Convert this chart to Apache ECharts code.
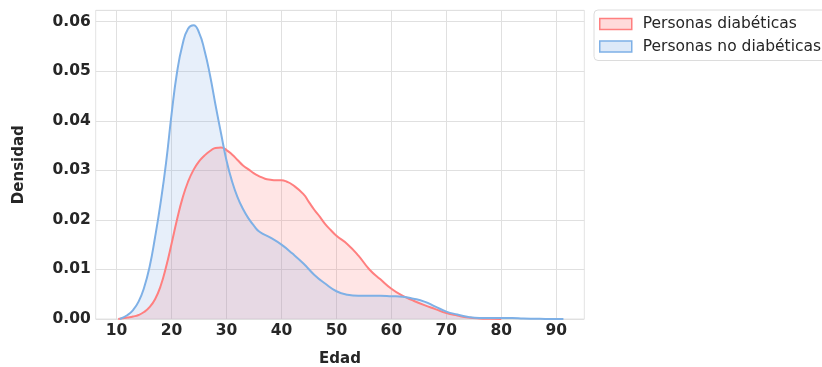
<!DOCTYPE html>
<html>
<head>
<meta charset="utf-8">
<script src="https://cdn.jsdelivr.net/npm/echarts@6/dist/echarts.min.js"></script>
<style>
  html, body { margin: 0; padding: 0; background: #fff; }
  #chart { width: 822px; height: 367px; }
</style>
</head>
<body>
<div id="chart"></div>
<script>
// curva de densidad (KDE)
const edadesDiab = [10.3, 12, 13, 14, 15, 16, 17, 18, 19, 20, 21, 22, 23, 24, 25, 26, 27, 28, 29, 30,
  31, 32, 33, 34, 35, 36, 37, 38, 39, 40, 41, 42, 44, 45, 46, 47, 48, 49, 50, 52, 54, 56, 58, 60,
  62, 64, 66, 68, 70, 72, 74, 76, 78, 80]
const densDiab = [0, 0.0003, 0.0005, 0.0008, 0.0014, 0.0024, 0.004, 0.0066, 0.0105, 0.0152, 0.0201,
  0.0244, 0.0277, 0.0301, 0.0318, 0.033, 0.0339, 0.0345, 0.0346, 0.0341,
  0.0332, 0.0321, 0.031, 0.0302, 0.0294, 0.0288, 0.0283, 0.0281, 0.028, 0.028, 0.0277, 0.0271,
  0.0252, 0.0236, 0.022, 0.0206, 0.0191, 0.0179, 0.0168, 0.0151, 0.0128, 0.0100, 0.0080, 0.0061,
  0.0047, 0.0037, 0.0028, 0.002, 0.0012, 0.0007, 0.0003, 0.0001, 0.00003, 0]

const edadesNoDiab = [10.6, 12, 13, 14, 15, 16, 17, 18, 19, 20, 21, 22, 23, 24, 25, 26, 27, 28, 29, 30,
  31, 32, 33, 34, 35, 36, 38, 40, 42, 44, 46, 48, 50, 52, 54, 56, 58, 60, 62, 64, 66, 68, 70,
  72, 74, 76, 78, 80, 82, 84, 86, 88, 91.3]
const densNoDiab = [0, 0.0008, 0.0018, 0.0035, 0.0063, 0.0105, 0.0165, 0.0234, 0.0315, 0.0413, 0.0498,
  0.0554, 0.0586, 0.0593, 0.0578, 0.0542, 0.0492, 0.0432, 0.0375, 0.032,
  0.0278, 0.0246, 0.0222, 0.0203, 0.0188, 0.0176, 0.0164, 0.015, 0.0132, 0.0112, 0.0089, 0.0071,
  0.0056, 0.0049, 0.0047, 0.0047, 0.0047, 0.0046, 0.0045, 0.0041, 0.0035, 0.0025, 0.0015,
  0.0009, 0.0004, 0.0002, 0.0002, 0.0002, 0.0002, 0.0001, 0.00005, 0.00002, 0]

const ticksEdad = [10, 20, 30, 40, 50, 60, 70, 80, 90]
const nombres = ['Personas diabéticas', 'Personas no diabéticas']

const zip = (xs, ys) => xs.map((x, i) => [x, ys[i]])

const fuente = 'DejaVu Sans'
const gris = '#262626'

const chart = echarts.init(document.getElementById('chart'))

const option = {
  animation: false,
  textStyle: { fontFamily: fuente },
  grid: {
    left: 95.7,
    top: 10.3,
    right: 237.7,
    bottom: 48,
    containLabel: false,
    outerBoundsMode: 'none',
    show: true,
    borderColor: '#e3e3e3',
    borderWidth: 1
  },
  legend: {
    orient: 'vertical',
    left: 594,
    top: 10,
    padding: [6, 30, 6, 5],
    backgroundColor: '#fff',
    borderColor: '#dcdcdc',
    borderWidth: 1,
    borderRadius: 4,
    icon: 'rect',
    itemWidth: 32,
    itemHeight: 11,
    itemGap: 6.5,
    textStyle: { fontFamily: fuente, fontSize: 15.5, color: gris, lineHeight: 16, padding: [0, 0, 0, 6] },
    data: [
      { name: nombres[0], itemStyle: { color: 'rgba(255,107,107,0.25)', borderColor: '#ff7f7f', borderWidth: 1.5 } },
      { name: nombres[1], itemStyle: { color: 'rgba(119,167,227,0.25)', borderColor: '#7eb0e6', borderWidth: 1.5 } }
    ]
  },
  xAxis: {
    type: 'value',
    min: 6.2,
    max: 95.1,
    name: 'Edad',
    nameLocation: 'middle',
    nameGap: 33,
    nameTextStyle: { fontFamily: fuente, fontSize: 15, fontWeight: 'bold', color: gris },
    axisLine: { show: false },
    axisTick: { show: false, customValues: ticksEdad },
    axisLabel: {
      customValues: ticksEdad,
      margin: 4,
      fontFamily: fuente,
      fontSize: 15.5,
      fontWeight: 'bold',
      color: gris
    },
    splitLine: { show: true, lineStyle: { color: '#e0e0e0', width: 1 } }
  },
  yAxis: {
    type: 'value',
    min: 0,
    max: 0.0623,
    interval: 0.01,
    name: 'Densidad',
    nameLocation: 'middle',
    nameGap: 69,
    nameTextStyle: { fontFamily: fuente, fontSize: 15, fontWeight: 'bold', color: gris },
    axisLine: { show: false },
    axisTick: { show: false },
    axisLabel: {
      margin: 5,
      showMaxLabel: false,
      fontFamily: fuente,
      fontSize: 15.5,
      fontWeight: 'bold',
      color: gris,
      formatter: v => v.toFixed(2)
    },
    splitLine: { show: true, lineStyle: { color: '#e0e0e0', width: 1 } }
  },
  series: [
    {
      name: nombres[0],
      type: 'line',
      smooth: true,
      showSymbol: false,
      data: zip(edadesDiab, densDiab),
      lineStyle: { color: '#ff7f7f', width: 2 },
      itemStyle: { color: '#ff7f7f' },
      areaStyle: { color: 'rgba(255,107,107,0.25)' }
    },
    {
      name: nombres[1],
      type: 'line',
      smooth: true,
      showSymbol: false,
      data: zip(edadesNoDiab, densNoDiab),
      lineStyle: { color: '#7eb0e6', width: 2 },
      itemStyle: { color: '#7eb0e6' },
      areaStyle: { color: 'rgba(119,167,227,0.25)' }
    }
  ]
}

chart.setOption(option)
</script>
</body>
</html>
